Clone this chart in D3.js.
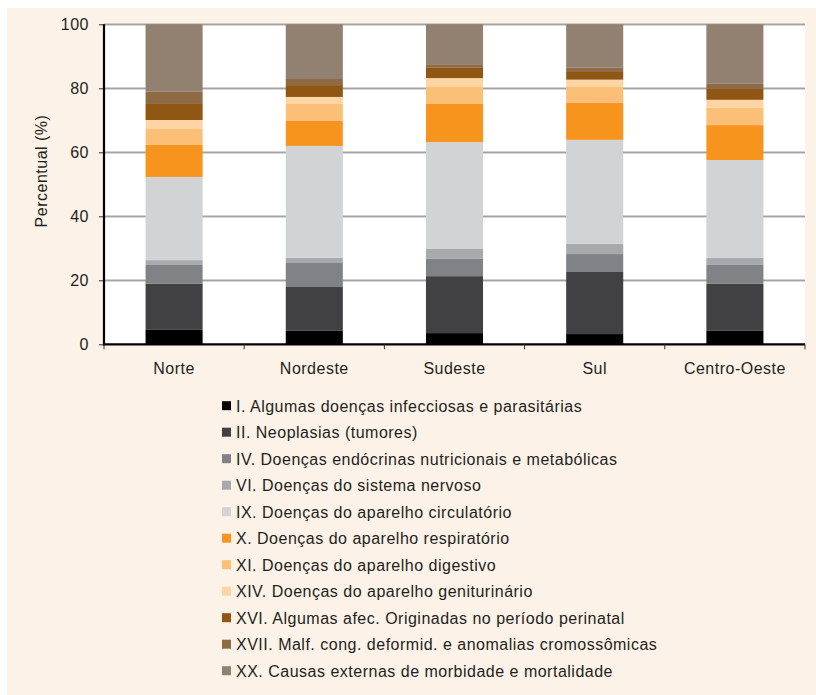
<!DOCTYPE html>
<html><head><meta charset="utf-8">
<script src="https://cdn.jsdelivr.net/npm/d3@7"></script>
<style>body{margin:0;background:#fff}svg{display:block}text{font-family:"Liberation Sans",Arial,sans-serif;fill:#231f20;letter-spacing:0.5px}</style>
</head><body><svg id="c" width="816" height="695"></svg>
<script>
const categories = ["Norte","Nordeste","Sudeste","Sul","Centro-Oeste"];
const seriesNames = [
 "I. Algumas doenças infecciosas e parasitárias",
 "II. Neoplasias (tumores)",
 "IV. Doenças endócrinas nutricionais e metabólicas",
 "VI. Doenças do sistema nervoso",
 "IX. Doenças do aparelho circulatório",
 "X. Doenças do aparelho respiratório",
 "XI. Doenças do aparelho digestivo",
 "XIV. Doenças do aparelho geniturinário",
 "XVI. Algumas afec. Originadas no período perinatal",
 "XVII. Malf. cong. deformid. e anomalias cromossômicas",
 "XX. Causas externas de morbidade e mortalidade"
];
const colors = ["#000000","#414042","#808285","#a7a9ac","#d1d3d4","#f7941d","#fbbf78","#fdd5a5","#8f5614","#8f6b45","#928170"];
// values per category, in series order
const norte       = [4.5,14.4,5.9,1.5,26.0,10.0,5.0,2.8,5.0,3.8,21.1];
const nordeste    = [4.2,13.7,7.5,1.6,35.0, 7.8,5.3,2.2,3.7,1.9,17.1];
const sudeste     = [3.5,17.8,5.4,3.1,33.4,11.9,5.3,2.8,3.2,0.9,12.7];
const sul         = [3.2,19.4,5.6,3.2,32.5,11.5,5.0,2.3,2.4,1.3,13.6];
const centroOeste = [4.2,14.7,5.9,2.2,30.6,10.9,5.4,2.5,3.4,1.6,18.6];
const yTicks = [0,20,40,60,80,100];

const valueRows = [norte,nordeste,sudeste,sul,centroOeste];
const table = categories.map((c,i)=>{const o={cat:c};seriesNames.forEach((s,j)=>o[s]=valueRows[i][j]);return o;});
const stack = d3.stack().keys(seriesNames)(table);

const svg = d3.select("#c");
svg.append("rect").attr("x",7).attr("y",8).attr("width",809).attr("height",687).attr("fill","#fdf2e8");

const L=104,R=805,T=24.3,B=344.3;
const x = d3.scaleBand().domain(categories).range([L,R]).padding(0);
const y = d3.scaleLinear().domain([0,100]).range([B,T]);
const barW = x.bandwidth()*0.407;

svg.append("rect").attr("x",L).attr("y",T).attr("width",R-L).attr("height",B-T).attr("fill","#fff");

// gridlines
const g = svg.append("g");
yTicks.filter(d=>d>0).forEach(t=>{
  g.append("line").attr("x1",L).attr("x2",R).attr("y1",y(t)+1.2).attr("y2",y(t)+1.2).attr("stroke","#d6d6d6").attr("stroke-width",1);
  g.append("line").attr("x1",L).attr("x2",R).attr("y1",y(t)).attr("y2",y(t)).attr("stroke","#a3a3a3").attr("stroke-width",1.4);
});

// bars
svg.append("g").selectAll("g").data(stack).join("g").attr("fill",(d,i)=>colors[i])
  .selectAll("rect").data(d=>d).join("rect")
  .attr("x",d=>x(d.data.cat)+x.bandwidth()/2-barW/2)
  .attr("width",barW)
  .attr("y",d=>y(d[1])).attr("height",d=>y(d[0])-y(d[1]));

// y axis
const ya = svg.append("g").attr("transform",`translate(${L},0)`)
  .call(d3.axisLeft(y).tickValues(yTicks).tickSize(5).tickPadding(10));
ya.select(".domain").remove();
ya.selectAll(".tick line").attr("stroke","#333");
ya.selectAll("text").style("font-size","16px").attr("fill","#231f20").style("font-family","Liberation Sans, Arial, sans-serif");
svg.append("line").attr("x1",L).attr("x2",L).attr("y1",T).attr("y2",B+1).attr("stroke","#000").attr("stroke-width",2.2);

// x axis
svg.append("line").attr("x1",L-1).attr("x2",R).attr("y1",B).attr("y2",B).attr("stroke","#000").attr("stroke-width",2.2);
const bounds = categories.map(c=>x(c)).concat([R]);
svg.append("g").selectAll("line").data(bounds).join("line")
  .attr("x1",d=>d).attr("x2",d=>d).attr("y1",B).attr("y2",B+5).attr("stroke","#333").attr("stroke-width",1);
svg.append("g").selectAll("text").data(categories).join("text")
  .attr("x",d=>x(d)+x.bandwidth()/2).attr("y",374).attr("text-anchor","middle")
  .style("font-size","16px").text(d=>d);

// y title
svg.append("text").attr("transform","translate(46.5,171) rotate(-90)").attr("text-anchor","middle")
  .style("font-size","16px").text("Percentual (%)");

// legend
const lg = svg.append("g");
seriesNames.forEach((s,i)=>{
  const cy = 405.7 + i*26.5;
  lg.append("rect").attr("x",222).attr("y",cy-4.5).attr("width",9).attr("height",9).attr("fill",colors[i]);
  lg.append("text").attr("x",236).attr("y",cy+5.8).style("font-size","16px").text(s);
});
</script></body></html>
